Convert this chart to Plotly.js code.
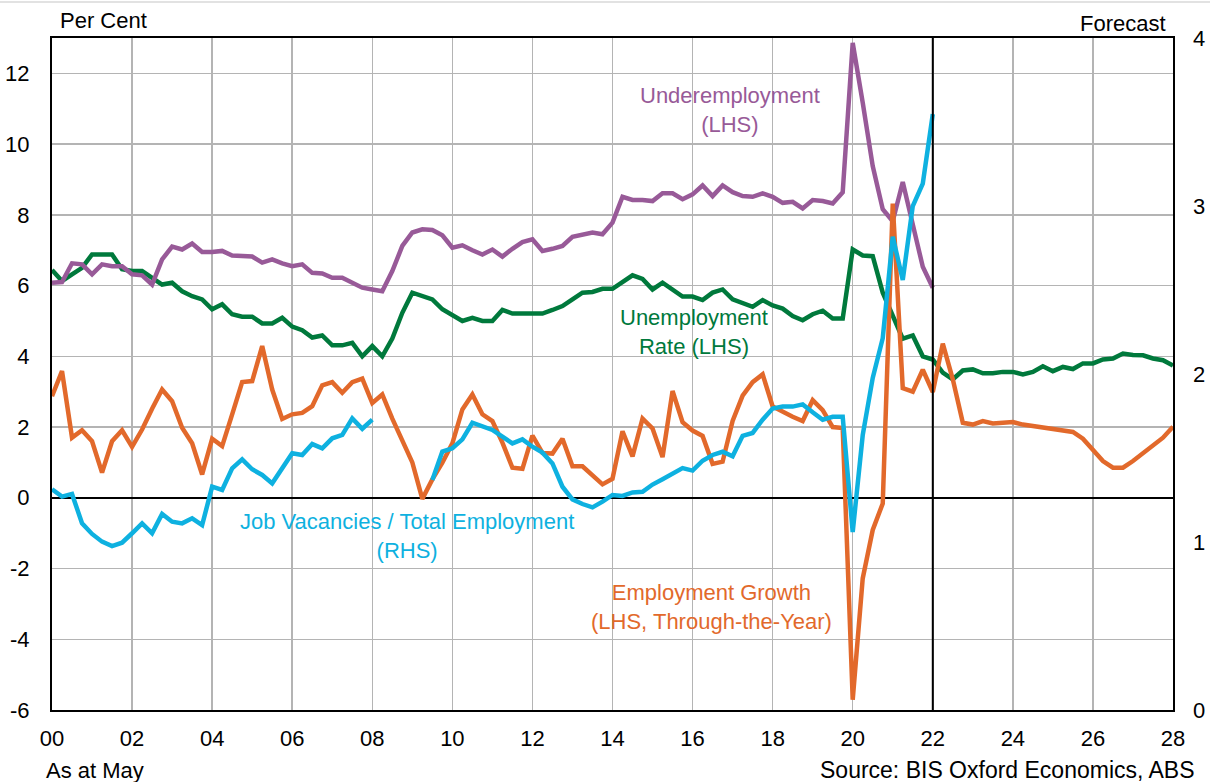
<!DOCTYPE html>
<html>
<head>
<meta charset="utf-8">
<script src="https://cdn.plot.ly/plotly-3.0.1.min.js"></script>
<style>
  html, body { margin: 0; padding: 0; background: #fff; }
  #chart { width: 1215px; height: 782px; }
</style>
</head>
<body>
<div id="chart"></div>
<script>
// Quarterly observations starting in 2000 (year offsets from 2000)
const startYear = 2000;

// Unemployment rate (LHS, %), 2000Q1 .. 2028Q1 (incl. forecast)
const unemployment = [
  6.44, 6.13, 6.32, 6.50, 6.88, 6.88, 6.88, 6.46, 6.41, 6.41, 6.22, 6.03, 6.08, 5.84, 5.70, 5.61,
  5.33, 5.47, 5.19, 5.12, 5.12, 4.93, 4.93, 5.09, 4.84, 4.74, 4.53, 4.59, 4.31, 4.31, 4.38, 4.00,
  4.29, 4.00, 4.50, 5.23, 5.80, 5.70, 5.61, 5.33, 5.15, 5.00, 5.09, 5.00, 5.00, 5.31, 5.21, 5.21,
  5.21, 5.21, 5.31, 5.42, 5.61, 5.80, 5.82, 5.91, 5.91, 6.10, 6.29, 6.19, 5.89, 6.08, 5.89, 5.69,
  5.69, 5.59, 5.80, 5.89, 5.61, 5.50, 5.40, 5.59, 5.44, 5.35, 5.14, 5.02, 5.19, 5.29, 5.07, 5.07,
  7.02, 6.85, 6.83, 5.80, 5.14, 4.50, 4.59, 4.00, 3.91, 3.54, 3.35, 3.60, 3.63, 3.52, 3.52, 3.56,
  3.56, 3.49, 3.56, 3.72, 3.58, 3.70, 3.64, 3.80, 3.80, 3.91, 3.94, 4.08, 4.04, 4.03, 3.94, 3.89,
  3.74
];

// Underemployment (LHS, %), 2000Q1 .. 2022Q1
const underemployment = [
  6.08, 6.10, 6.63, 6.60, 6.32, 6.60, 6.55, 6.55, 6.32, 6.29, 6.03, 6.74, 7.10, 7.02, 7.19, 6.95,
  6.95, 6.98, 6.85, 6.82, 6.82, 6.65, 6.74, 6.63, 6.55, 6.60, 6.36, 6.34, 6.22, 6.22, 6.08, 5.94,
  5.89, 5.84, 6.41, 7.12, 7.50, 7.59, 7.57, 7.42, 7.07, 7.14, 7.00, 6.88, 7.02, 6.82, 7.04, 7.23,
  7.31, 6.98, 7.04, 7.12, 7.38, 7.45, 7.50, 7.45, 7.78, 8.51, 8.42, 8.42, 8.39, 8.61, 8.61, 8.44,
  8.58, 8.83, 8.53, 8.83, 8.64, 8.53, 8.51, 8.61, 8.51, 8.34, 8.37, 8.18, 8.42, 8.39, 8.32, 8.64,
  12.86, 11.17, 9.38, 8.16, 7.82, 8.93, 7.78, 6.53, 5.94
];

// Employment growth, through-the-year (LHS, %), 2000Q1 .. 2028Q1 (incl. forecast)
const employmentGrowth = [
  2.87, 3.58, 1.70, 1.91, 1.60, 0.71, 1.60, 1.91, 1.44, 1.93, 2.52, 3.06, 2.73, 1.98, 1.54, 0.66,
  1.67, 1.46, 2.36, 3.27, 3.30, 4.29, 3.06, 2.23, 2.36, 2.40, 2.59, 3.18, 3.27, 2.97, 3.27, 3.37,
  2.68, 2.92, 2.24, 1.60, 1.00, -0.03, 0.52, 0.99, 1.54, 2.50, 2.92, 2.36, 2.17, 1.56, 0.85, 0.82,
  1.76, 1.27, 1.25, 1.67, 0.89, 0.89, 0.63, 0.38, 0.54, 1.88, 1.17, 2.24, 1.96, 1.15, 3.02, 2.14,
  1.90, 1.75, 0.96, 1.02, 2.17, 2.89, 3.27, 3.49, 2.58, 2.42, 2.29, 2.17, 2.76, 2.48, 2.00, 1.97,
  -5.71, -2.28, -0.91, -0.16, 8.32, 3.10, 3.00, 3.62, 2.99, 4.36, 3.35, 2.12, 2.07, 2.17, 2.10, 2.12,
  2.14, 2.07, 2.03, 2.00, 1.95, 1.90, 1.86, 1.67, 1.37, 1.04, 0.85, 0.85, 1.04, 1.27, 1.51, 1.70,
  2.01
];

// Job vacancies / total employment (RHS, %), 2000Q1 .. 2022Q1 (gap 2008Q2 .. 2009Q2)
const vacancies = [
  1.314, 1.270, 1.286, 1.111, 1.048, 1.002, 0.976, 0.996, 1.052, 1.111, 1.052, 1.167, 1.121, 1.111, 1.141, 1.101,
  1.329, 1.310, 1.439, 1.492, 1.433, 1.399, 1.349, 1.439, 1.528, 1.518, 1.583, 1.558, 1.617, 1.637, 1.736, 1.674,
  1.728, null, null, null, null, null, 1.369, 1.538, 1.558, 1.611, 1.710, 1.690, 1.667, 1.627, 1.587, 1.611,
  1.567, 1.532, 1.468, 1.329, 1.254, 1.226, 1.206, 1.240, 1.280, 1.274, 1.295, 1.299, 1.342, 1.374, 1.405, 1.440,
  1.425, 1.484, 1.518, 1.537, 1.510, 1.632, 1.649, 1.728, 1.794, 1.806, 1.806, 1.819, 1.772, 1.728, 1.745, 1.745,
  1.059, 1.636, 1.977, 2.213, 2.817, 2.560, 3.000, 3.133, 3.547
];

// Axis tick definitions
const xTickVals = [0, 2, 4, 6, 8, 10, 12, 14, 16, 18, 20, 22, 24, 26, 28];
const xTickText = ['00', '02', '04', '06', '08', '10', '12', '14', '16', '18', '20', '22', '24', '26', '28'];
const yLeftTicks = [-6, -4, -2, 0, 2, 4, 6, 8, 10, 12];
const yLeftText = ['-6', '-4', '-2', '0', '2', '4', '6', '8', '10', '12'];
const yRightTicks = [0, 1, 2, 3, 4];
const forecastStart = 22;

// Quarter positions (years since 2000)
function quarters(n) { const q = []; for (let i = 0; i < n; i++) q.push(i / 4); return q; }

const colors = {
  purple: '#985A98',
  green: '#00793C',
  orange: '#E2692B',
  cyan: '#0EB1E0'
};

const FONT = 'Liberation Sans, Arial, sans-serif';
const LW = 4.5;

const traces = [
  { x: quarters(unemployment.length), y: unemployment, type: 'scatter', mode: 'lines',
    line: { color: colors.green, width: LW }, name: 'Unemployment Rate', yaxis: 'y' },
  { x: quarters(underemployment.length), y: underemployment, type: 'scatter', mode: 'lines',
    line: { color: colors.purple, width: LW }, name: 'Underemployment', yaxis: 'y' },
  { x: quarters(employmentGrowth.length), y: employmentGrowth, type: 'scatter', mode: 'lines',
    line: { color: colors.orange, width: LW }, name: 'Employment Growth', yaxis: 'y' },
  { x: quarters(vacancies.length), y: vacancies, type: 'scatter', mode: 'lines', connectgaps: false,
    line: { color: colors.cyan, width: LW }, name: 'Job Vacancies', yaxis: 'y2' }
];

function ann(text, x, y, xanchor, color, size) {
  return { text: text, xref: 'paper', yref: 'paper', x: x, y: y, xanchor: xanchor, yanchor: 'middle',
    showarrow: false, font: { family: FONT, size: size || 22, color: color || '#000' } };
}

const layout = {
  width: 1215, height: 782,
  margin: { l: 52, r: 42, t: 38, b: 72 },
  paper_bgcolor: '#fff', plot_bgcolor: '#fff',
  showlegend: false,
  font: { family: FONT, size: 22, color: '#000' },
  xaxis: {
    range: [0, 28], tickvals: xTickVals, ticktext: xTickText,
    showgrid: true, gridcolor: '#B4B4B4', gridwidth: 1.5,
    showline: true, mirror: true, linecolor: '#000', linewidth: 2,
    ticks: '', ticklabelstandoff: 8, zeroline: false,
    tickfont: { family: FONT, size: 22, color: '#000' }
  },
  yaxis: {
    range: [-6, 13], tickvals: yLeftTicks, ticktext: yLeftText,
    showgrid: true, gridcolor: '#B4B4B4', gridwidth: 1.5,
    showline: true, mirror: true, linecolor: '#000', linewidth: 2,
    zeroline: true, zerolinecolor: '#000', zerolinewidth: 2,
    ticks: '', ticklabelstandoff: 16,
    tickfont: { family: FONT, size: 22, color: '#000' }
  },
  yaxis2: {
    range: [0, 4], tickvals: yRightTicks, overlaying: 'y', side: 'right',
    showgrid: false, zeroline: false, showline: false,
    ticks: '', ticklabelstandoff: 19,
    tickfont: { family: FONT, size: 22, color: '#000' }
  },
  shapes: [
    { type: 'line', xref: 'x', yref: 'paper', x0: forecastStart, x1: forecastStart, y0: 0, y1: 1,
      line: { color: '#000', width: 2 } },
    { type: 'line', xref: 'paper', yref: 'paper', x0: -0.0464, x1: 1.033, y0: 1.0536, y1: 1.0536,
      line: { color: '#D9D9D9', width: 1.5 } }
  ],
  annotations: [
    ann('Per Cent', 0.0054, 1.0253, 'left'),
    ann('Forecast', 0.9955, 1.0223, 'right'),
    ann('As at May', -0.0071, -0.0893, 'left'),
    ann('Source: BIS Oxford Economics, ABS', 1.0214, -0.0893, 'right', '#000', 23),
    ann('Underemployment<br>(LHS)', 0.6048, 0.8929, 'center', colors.purple),
    ann('Unemployment<br>Rate (LHS)', 0.5727, 0.5618, 'center', colors.green),
    ann('Job Vacancies / Total Employment<br>(RHS)', 0.3167, 0.2582, 'center', colors.cyan),
    ann('Employment Growth<br>(LHS, Through-the-Year)', 0.5879, 0.1533, 'center', colors.orange)
  ]
};

Plotly.newPlot('chart', traces, layout, { displayModeBar: false, staticPlot: true });
</script>
</body>
</html>
